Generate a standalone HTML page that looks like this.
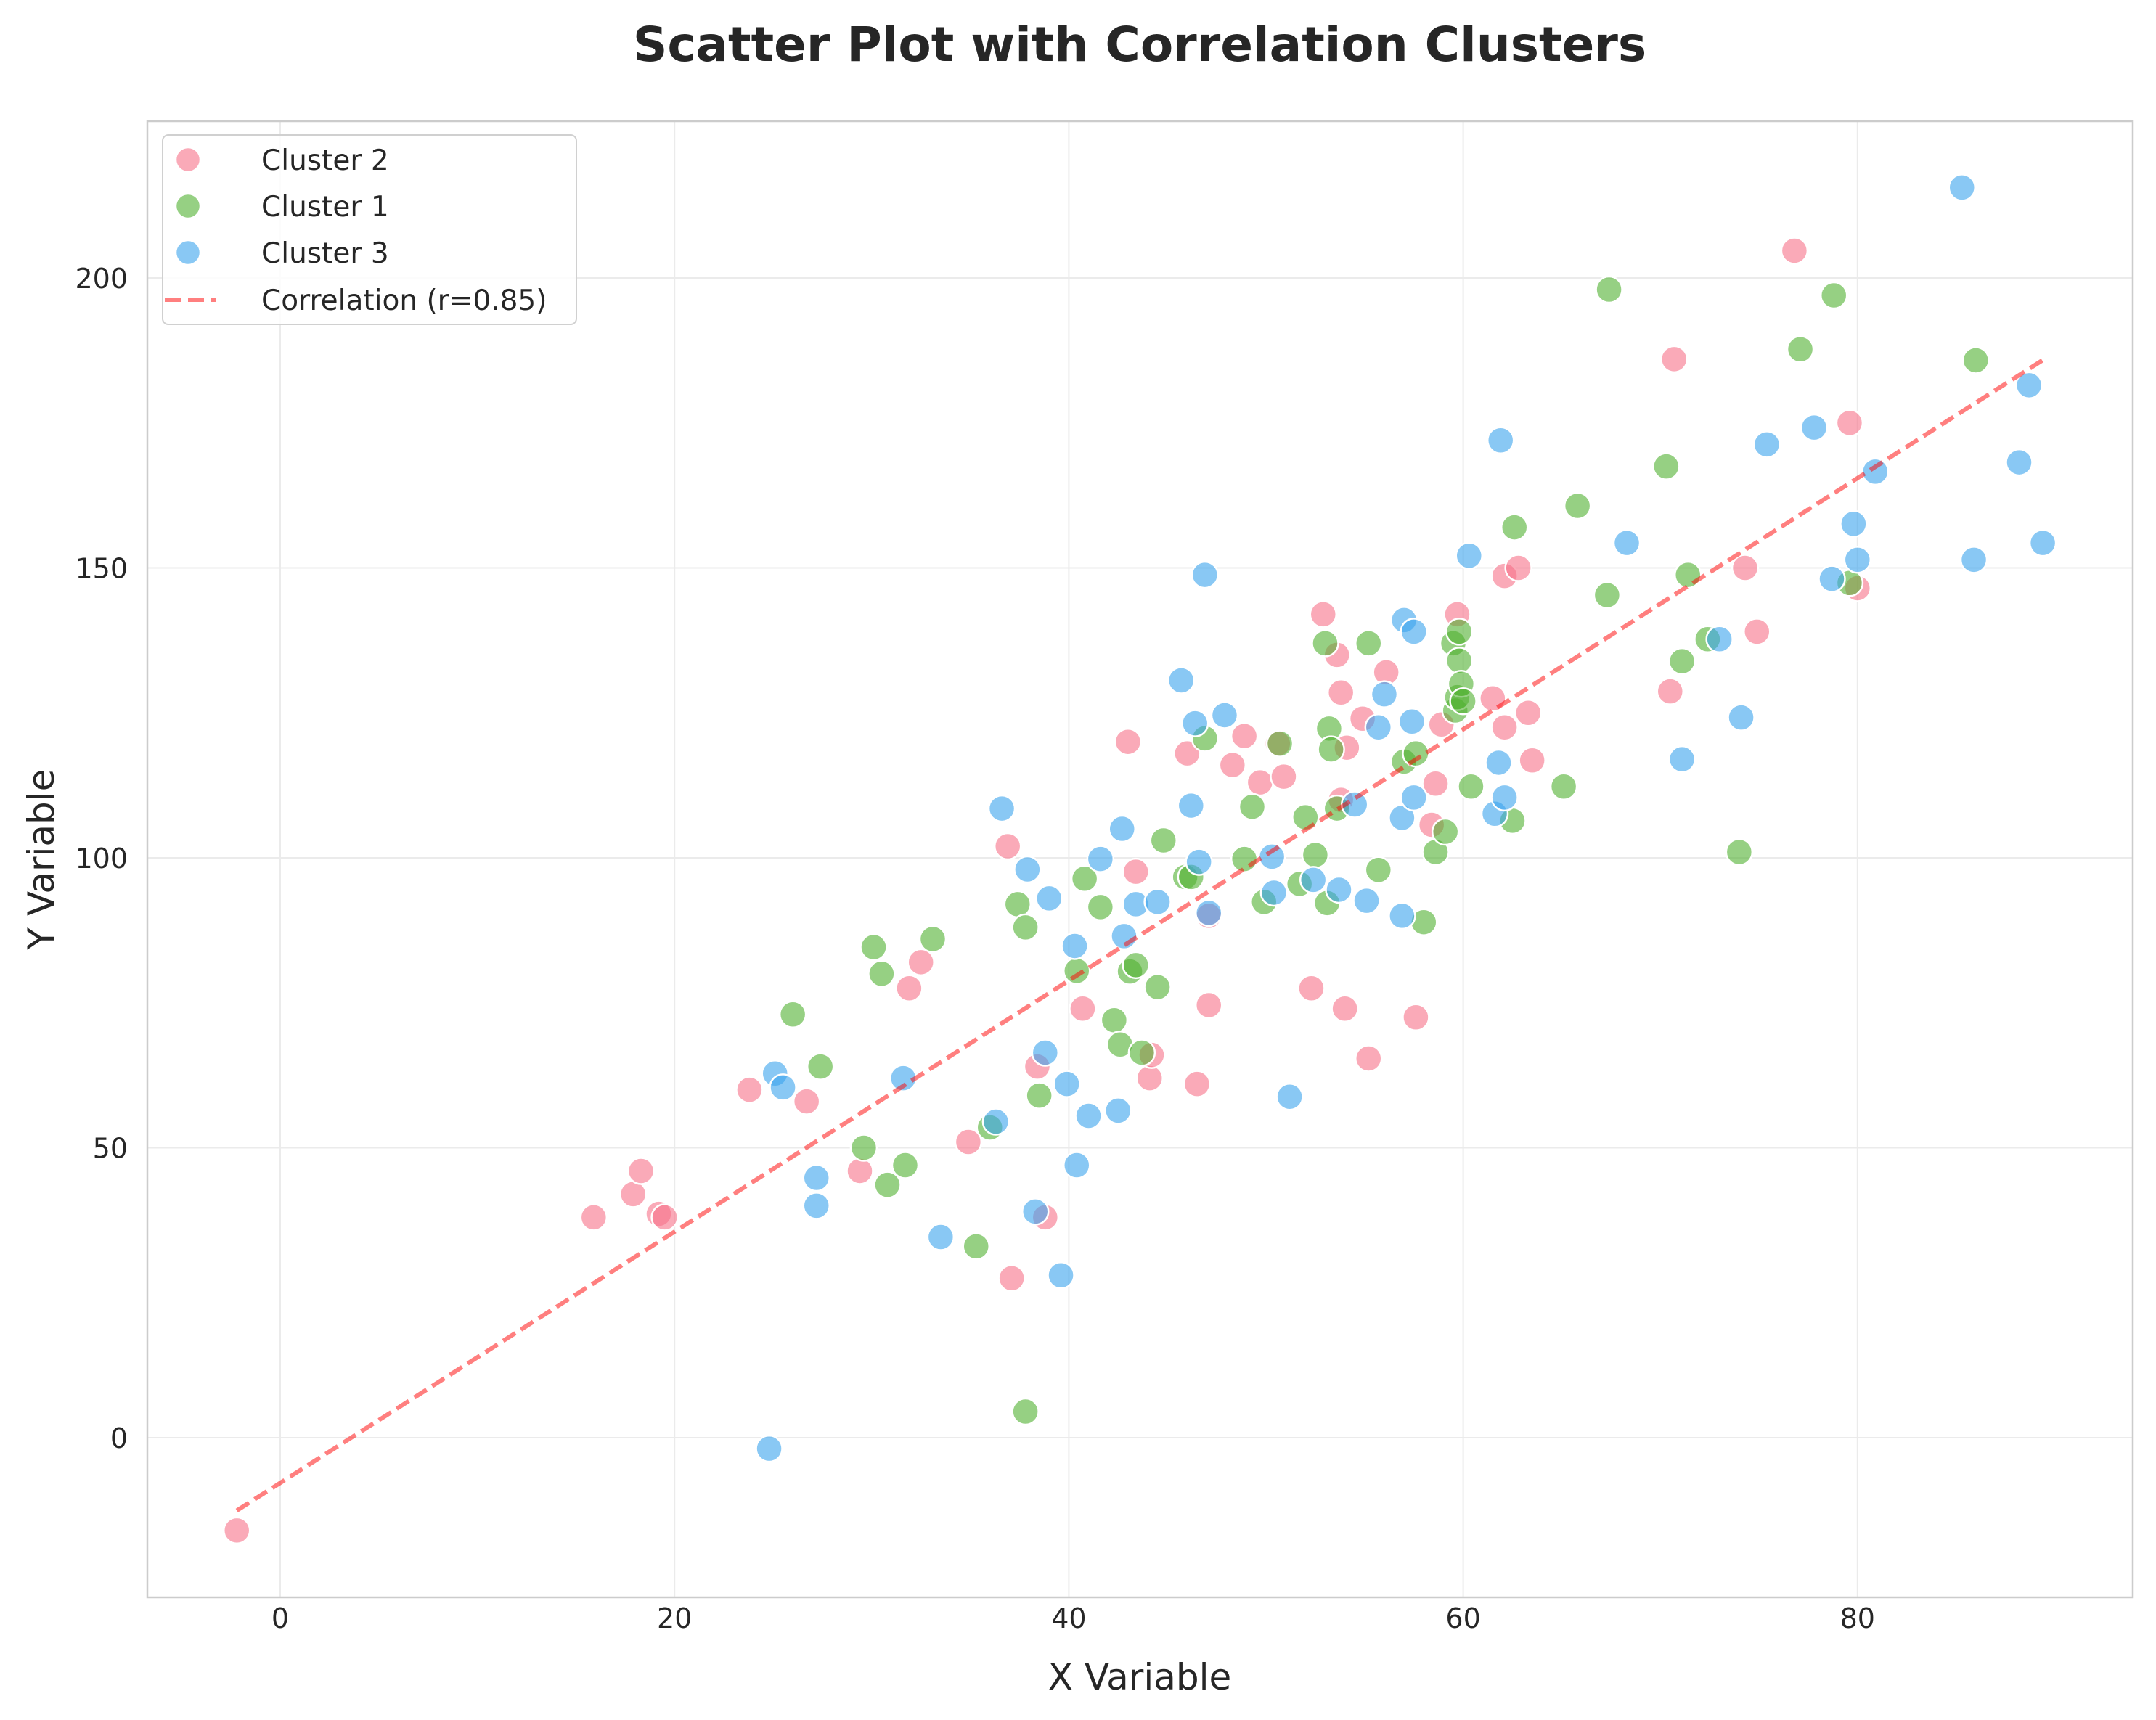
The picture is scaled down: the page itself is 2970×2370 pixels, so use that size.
<!DOCTYPE html>
<html><head><meta charset="utf-8"><style>
html,body{margin:0;padding:0;background:#fff}
svg{display:block;font-family:"DejaVu Sans","Liberation Sans",sans-serif}
</style></head><body>
<svg id="chart" width="2970" height="2370" viewBox="0 0 2970 2370" xmlns="http://www.w3.org/2000/svg">
<rect x="0" y="0" width="2970" height="2370" fill="#fff"/>
<text x="1570" y="84" text-anchor="middle" font-size="66" font-weight="bold" fill="#262626">Scatter Plot with Correlation Clusters</text>
<g id="grid"></g>
<rect x="203" y="167" width="2735" height="2034" fill="none" stroke="#cccccc" stroke-width="2.5"/>
<g id="ticks"></g>
<g id="points"></g>
<g id="line"></g>
<text x="1570" y="2328" text-anchor="middle" font-size="50" fill="#262626">X Variable</text>
<text x="0" y="0" transform="translate(74,1184) rotate(-90)" text-anchor="middle" font-size="50" fill="#262626">Y Variable</text>
<g id="legend">
<rect x="224" y="186" width="570" height="261" rx="8" fill="#fff" fill-opacity="0.85" stroke="#d0d0d0" stroke-width="2"/>
<circle cx="259" cy="220" r="17" fill="#f77189" fill-opacity="0.6" stroke="#fff" stroke-width="2.5"/>
<text x="360" y="234" font-size="39" fill="#262626">Cluster 2</text>
<circle cx="259" cy="284" r="17" fill="#50b131" fill-opacity="0.6" stroke="#fff" stroke-width="2.5"/>
<text x="360" y="298" font-size="39" fill="#262626">Cluster 1</text>
<circle cx="259" cy="348" r="17" fill="#3ba3ec" fill-opacity="0.6" stroke="#fff" stroke-width="2.5"/>
<text x="360" y="362" font-size="39" fill="#262626">Cluster 3</text>
<line x1="227" y1="413" x2="297" y2="413" stroke="#ff0000" stroke-opacity="0.5" stroke-width="6" stroke-dasharray="22,10"/>
<text x="360" y="427" font-size="39" fill="#262626">Correlation (r=0.85)</text>
</g>
</svg>
<script>
const xTicks=[0,20,40,60,80];
const yTicks=[0,50,100,150,200];
const c2x=[-2.2,15.9,17.9,18.3,19.2,19.5,23.8,26.7,29.4,31.9,32.5,34.9,36.9,37.1,38.4,38.8,40.7,43,43.4,44.1,44.2,46,46.5,47.1,47.1,48.3,48.9,49.7,50.6,50.9,52.3,52.9,53.6,53.8,53.8,54,54.1,54.9,55.2,56.1,57.6,58.4,58.6,58.9,59.7,61.5,62.1,62.1,62.8,63.3,63.5,70.5,70.7,74.3,74.9,76.8,79.6,80];
const c2y=[-16,38,42,46,38.6,38,60,58,46,77.5,82,51,102,27.5,64,38,74,120,97.6,62,66,118,61,74.6,90,116,121,113,119.7,114,77.5,142,135,128.5,110,74,119,124,65.4,132,72.5,105.7,112.8,123,142,127.5,148.6,122.5,150,125,116.8,128.7,186,150,139,204.7,175,146.5];
const c1x=[26,27.4,29.6,30.1,30.5,30.8,31.7,33.1,35.3,36,37.4,37.8,37.8,38.5,40.4,40.8,41.6,42.3,42.6,43.1,43.4,43.7,44.5,44.8,45.9,46.2,46.9,48.9,49.3,49.9,50.7,51.7,52,52.5,53,53.1,53.2,53.3,53.6,55.2,55.7,57,57.6,58,58.6,59.1,59.5,59.6,59.7,59.8,59.8,59.9,60,60.4,62.5,62.6,65.1,65.8,67.3,67.4,70.3,71.1,71.4,72.4,74,77.1,78.8,79.6,86];
const c1y=[73,64,50,84.6,80,43.6,47,86,33,53.5,92,88,4.5,59,80.5,96.4,91.5,72,67.8,80.4,81.5,66.4,77.7,103,96.7,96.7,120.6,99.8,108.8,92.4,119.7,95.5,107,100.5,137,92.2,122.3,118.7,108.5,137,97.9,116.6,118,88.9,101,104.5,137,125.4,127.7,134,139,130,127,112.3,106.4,157,112.3,160.7,145.3,198,167.5,133.9,148.8,137.7,101,187.7,197,147.4,185.8];
const c3x=[24.8,25.1,25.5,27.2,27.2,31.6,33.5,36.3,36.6,37.9,38.3,38.8,39,39.6,39.9,40.3,40.4,41,41.6,42.5,42.7,42.8,43.4,44.5,45.7,46.2,46.4,46.6,46.9,47.1,47.9,50.3,50.4,51.2,52.4,53.7,54.5,55.1,55.7,56,56.9,56.9,57,57.4,57.5,57.5,60.3,61.6,61.8,61.9,62.1,68.3,71.1,73,74.1,75.4,77.8,78.7,79.8,80,80.9,85.3,85.9,88.2,88.7,89.4];
const c3y=[-1.9,62.8,60.4,44.8,40,62,34.6,54.5,108.5,98,39,66.4,93,28,61,84.8,47,55.5,99.8,56.4,105,86.5,92,92.4,130.6,109,123.2,99.3,148.8,90.5,124.6,100.2,94,58.8,96.2,94.5,109.2,92.6,122.5,128.2,106.9,90,141,123.5,110.4,139,152.1,107.6,116.4,172,110.4,154.3,117,137.7,124.2,171.3,174.2,148.1,157.6,151.4,166.6,215.6,151.4,168.2,181.5,154.3];
const lineX=[-2.2,89.4];
const slope=2.166, intercept=-7.8;

const NS="http://www.w3.org/2000/svg";
function X(v){return 386+v*27.16;}
function Y(v){return 1981-v*7.99;}
function mk(tag,attrs,parent){const e=document.createElementNS(NS,tag);for(const k in attrs)e.setAttribute(k,attrs[k]);parent.appendChild(e);return e;}
const grid=document.getElementById('grid'),ticks=document.getElementById('ticks');
xTicks.forEach(t=>{
  const g=mk('line',{x1:X(t),x2:X(t),y1:167,y2:2201,stroke:'#ebebeb','stroke-width':2},grid);
  
  
  const l=mk('text',{x:X(t),y:2243,'text-anchor':'middle','font-size':38,fill:'#262626'},ticks);
  l.textContent=t;
  
  
});
yTicks.forEach(t=>{
  const g=mk('line',{x1:203,x2:2938,y1:Y(t),y2:Y(t),stroke:'#ebebeb','stroke-width':2},grid);
  
  
  const l=mk('text',{x:176,y:Y(t)+14,'text-anchor':'end','font-size':38,fill:'#262626'},ticks);
  l.textContent=t;
  
  
});
const pts=document.getElementById('points');
function series(xs,ys,color,name){
  xs.forEach((x,i)=>{
    const c=mk('circle',{cx:X(x),cy:Y(ys[i]),r:18,fill:color,'fill-opacity':0.6,stroke:'#fff','stroke-width':2.5},pts);
    
    
  });
}
series(c2x,c2y,'#f77189','cluster-2-point');
series(c1x,c1y,'#50b131','cluster-1-point');
series(c3x,c3y,'#3ba3ec','cluster-3-point');
const ln=mk('line',{x1:X(lineX[0]),y1:Y(slope*lineX[0]+intercept),x2:X(lineX[1]),y2:Y(slope*lineX[1]+intercept),stroke:'#ff0000','stroke-opacity':0.5,'stroke-width':6,'stroke-dasharray':'20,9'},document.getElementById('line'));


</script>
</body></html>
